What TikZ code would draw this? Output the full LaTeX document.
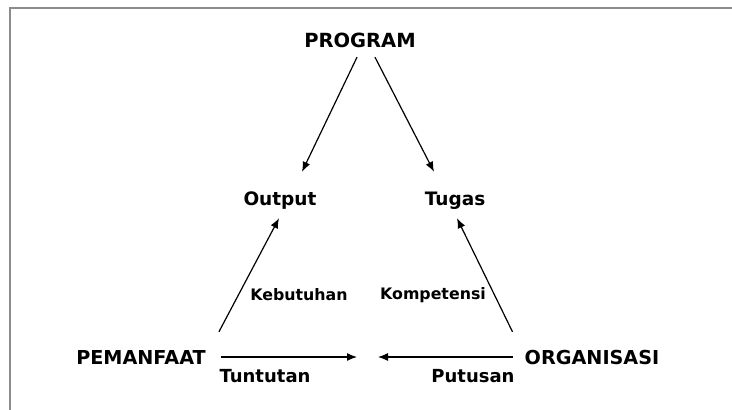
\documentclass[tikz,border=0pt]{standalone}
\usepackage{fontspec}
\setmainfont{DejaVu Sans}
\usetikzlibrary{arrows.meta}

\begin{document}
\begin{tikzpicture}[x=1pt, y=-1pt, >={Latex[length=10pt, width=8pt]}]
	\useasboundingbox (0, 0) rectangle (732, 410);
	% Frame:
	\draw[line width=2pt, black!45] (10, 8) rectangle (745, 425);
	% Nodes:
	\node[inner sep=0pt, text height=14pt, text depth=0pt, font=\bfseries\fontsize{19.5}{23}\selectfont](prog) at (360, 40){PROGRAM};
	\node[inner sep=0pt, text height=14pt, text depth=0pt, font=\bfseries\fontsize{18.5}{22}\selectfont](out) at (280, 198){Output};
	\node[inner sep=0pt, text height=14pt, text depth=0pt, font=\bfseries\fontsize{18.5}{22}\selectfont](tug) at (455, 198){Tugas};
	\node[inner sep=0pt, text height=14pt, text depth=0pt, font=\bfseries\fontsize{19.2}{23}\selectfont](pem) at (141, 357){PEMANFAAT};
	\node[inner sep=0pt, text height=14pt, text depth=0pt, font=\bfseries\fontsize{19.2}{23}\selectfont](org) at (592, 357){ORGANISASI};
	\coordinate (meetL) at (357, 357);
	\coordinate (meetR) at (378, 357);
	% Labels:
	\node[font=\bfseries\fontsize{15.8}{19}\selectfont](keb) at (299, 295){Kebutuhan};
	\node[font=\bfseries\fontsize{15.8}{19}\selectfont](komp) at (433, 295){Kompetensi};
	\node[font=\bfseries\fontsize{18}{22}\selectfont](tunt) at (265, 376){Tuntutan};
	\node[font=\bfseries\fontsize{18}{22}\selectfont](put) at (473, 376){Putusan};
	% Arrows:
	\draw[line width=1.2pt, ->] ([xshift=-3pt, yshift=-10pt]prog.south) -- ([xshift=22pt, yshift=19pt]out.north);
	\draw[line width=1.2pt, ->] ([xshift=15pt, yshift=-10pt]prog.south) -- ([xshift=-21pt, yshift=19pt]tug.north);
	\draw[line width=1.2pt, ->] ([xshift=13pt, yshift=18pt]pem.north east) -- ([xshift=-1pt, yshift=-13pt]out.south);
	\draw[line width=1.2pt, ->] ([xshift=-12pt, yshift=18pt]org.north west) -- ([xshift=2pt, yshift=-13pt]tug.south);
	\draw[line width=1.2pt, ->] ([xshift=15pt]pem.east) -- (meetL);
	\draw[line width=1.2pt, ->] ([xshift=-12pt]org.west) -- (meetR);
\end{tikzpicture}
\end{document}
